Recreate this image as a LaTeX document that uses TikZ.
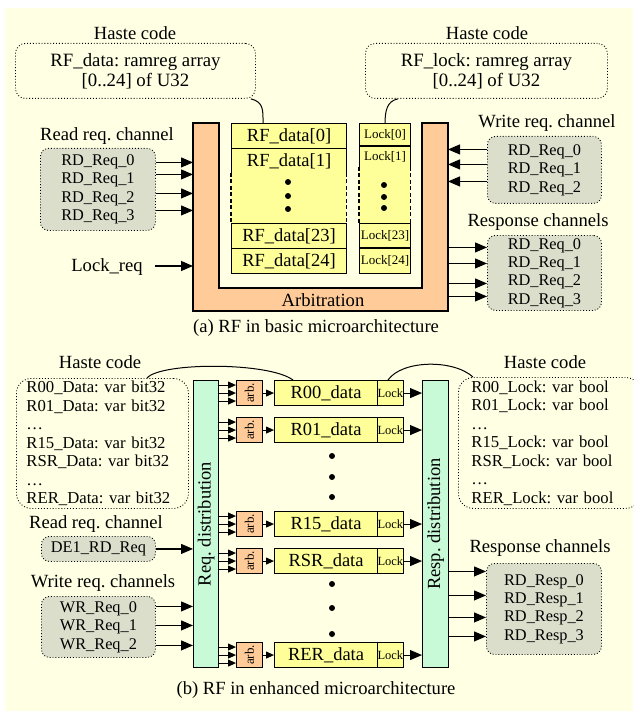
\documentclass[tikz,border=0pt]{standalone}
\usepackage{fontspec}
\usepackage{graphicx}
\setmainfont{Liberation Serif}
\frenchspacing
\usetikzlibrary{arrows.meta,calc}
\definecolor{bgc}{RGB}{255,255,228}
\definecolor{orc}{RGB}{255,204,153}
\definecolor{yel}{RGB}{255,255,153}
\definecolor{greyc}{RGB}{220,222,204}
\definecolor{grn}{RGB}{200,250,215}
\tikzset{
  lab/.style={font=\fontsize{18.6}{20}\selectfont, inner sep=0pt},
  haste/.style={draw, dotted, line width=0.9pt, rounded corners=10pt, inner sep=0pt, anchor=north west},
  gbox/.style={draw, dotted, line width=0.9pt, fill=greyc, rounded corners=8pt, inner sep=0pt,
    anchor=north west, align=center, font=\fontsize{16.3}{18.4}\selectfont},
  ybox/.style={draw, line width=1.1pt, fill=yel, inner sep=0pt, anchor=north west,
    font=\fontsize{18.5}{20}\selectfont},
  lbox/.style={draw, line width=1.1pt, fill=yel, inner sep=0pt, anchor=north west,
    font=\fontsize{13}{14}\selectfont},
  abox/.style={draw, line width=1.1pt, fill=orc, inner sep=0pt, anchor=north west,
    font=\fontsize{13}{14}\selectfont},
  dbox/.style={draw, line width=1.1pt, fill=grn, inner sep=0pt, anchor=north west,
    font=\fontsize{18.5}{20}\selectfont},
  arr/.style={line width=1.1pt, -{Triangle[length=12pt,width=10pt]}},
  sarr/.style={line width=1pt, -{Triangle[length=8pt,width=7pt]}},
  curv/.style={line width=1pt},
  dot/.style={fill=black},
}
\begin{document}
\begin{tikzpicture}[x=1pt,y=-1pt]
\useasboundingbox (0,0) rectangle (633,711);
\fill[bgc] (5,8) rectangle (633,711);

% ================= (a) =================
\node[lab] (hc1) at (135,33) {Haste code};
\node[haste, minimum width=240pt, minimum height=55pt, align=center,
  font=\fontsize{18.8}{20}\selectfont] (hd) at (15,43) {RF\_data: ramreg array\\{}[0..24] of U32};
\node[lab] (hc2) at (487,33) {Haste code};
\node[haste, minimum width=242pt, minimum height=55pt, align=center,
  font=\fontsize{18.8}{20}\selectfont] (hl) at (365,43) {RF\_lock: ramreg array\\{}[0..24] of U32};

% arbitration U
\draw[line width=1.1pt, fill=orc] (193,123) -- (219,123) -- (219,288) -- (422,288) -- (422,123)
  -- (448,123) -- (448,311) -- (193,311) -- cycle;
\coordinate (uLo) at (193,123);
\coordinate (uRo) at (448,123);
\node[lab] (arbt) at (323,300) {Arbitration};

% RF data column
\node[ybox, minimum width=115pt, minimum height=25pt] (rf0) at (231,123) {RF\_data[0]};
\node[ybox, minimum width=115pt, minimum height=25pt] (rf1) at (231,148) {RF\_data[1]};
\node[fill=yel, inner sep=0pt, anchor=north west, minimum width=115pt, minimum height=50pt] (rfm) at (231,173) {};
\draw[line width=1.1pt, dash pattern=on 4pt off 2.5pt] (rfm.north west) -- (rfm.south west) (rfm.north east) -- (rfm.south east);
\node[ybox, minimum width=115pt, minimum height=25pt] (rf23) at (231,223) {RF\_data[23]};
\node[ybox, minimum width=115pt, minimum height=25pt] (rf24) at (231,248) {RF\_data[24]};
\fill[dot] (288,182) circle (3pt) (288,196) circle (3pt) (288,209) circle (3pt);

% Lock column
\node[lbox, minimum width=51pt, minimum height=22pt] (lk0) at (359,123) {Lock[0]};
\node[lbox, minimum width=51pt, minimum height=21pt] (lk1) at (359,146) {Lock[1]};
\node[fill=yel, inner sep=0pt, anchor=north west, minimum width=51pt, minimum height=56pt] (lkm) at (359,167) {};
\draw[line width=1.1pt, dash pattern=on 4pt off 2.5pt] (lkm.north west) -- (lkm.south west) (lkm.north east) -- (lkm.south east);
\node[lbox, minimum width=51pt, minimum height=24pt] (lk23) at (359,223) {Lock[23]};
\node[lbox, minimum width=51pt, minimum height=25pt] (lk24) at (359,248) {Lock[24]};
\fill[dot] (384,185) circle (3pt) (384,197) circle (3pt) (384,208) circle (3pt);

% haste connectors
\draw[curv] ([xshift=-5pt]hd.south east) .. controls ($(hd.south east)+(8,3)$) and ($(rf0.north west)+(32,-12)$) .. ($(rf0.north west)+(32,0)$);
\draw[curv] ([xshift=33pt]hl.south west) .. controls ($(hl.south west)+(22,2)$) and ($(lk0.north)+(0,-12)$) .. (lk0.north);

% read requests
\node[lab] (rdl) at (107,136) {Read req. channel};
\node[gbox, minimum width=115pt, minimum height=82pt] (rd) at (40,148) {RD\_Req\_0\\RD\_Req\_1\\RD\_Req\_2\\RD\_Req\_3};
\foreach \s in {27,15,-4,-21} {
  \draw[arr] ([yshift=\s pt]rd.east) -- ([yshift=\s pt]rd.east -| uLo);
}
\node[lab] (lreq) at (107,267) {Lock\_req};
\draw[arr] ([xshift=12pt,yshift=1pt]lreq.east) -- ([yshift=1pt]lreq.east -| uLo);

% write requests
\node[lab] (wrl) at (547,123) {Write req. channel};
\node[gbox, minimum width=114pt, minimum height=67pt] (wr) at (487,136) {RD\_Req\_0\\RD\_Req\_1\\RD\_Req\_2};
\foreach \s in {20.5,5.5,-11.5} {
  \draw[arr] ([yshift=\s pt]wr.west) -- ([yshift=\s pt]wr.west -| uRo);
}

% responses
\node[lab] (rsl) at (538,222) {Response channels};
\node[gbox, minimum width=114pt, minimum height=75pt] (rs) at (487,235) {RD\_Req\_0\\RD\_Req\_1\\RD\_Req\_2\\RD\_Req\_3};
\foreach \s in {25.5,9.5,-10.5,-23.5} {
  \draw[arr] ([yshift=\s pt]rs.west -| uRo) -- ([yshift=\s pt]rs.west);
}

\node[lab] (capa) at (316,328) {(a) RF in basic microarchitecture};

% ================= (b) =================
\node[lab] (hc3) at (100,362) {Haste code};
\node[haste, rounded corners=15pt, minimum height=130pt, text width=152pt, inner xsep=10pt, align=left,
  font=\fontsize{16.7}{18.5}\selectfont] (hd2) at (16,378)
  {R00\_Data: var bit32\\R01\_Data: var bit32\\…\\R15\_Data: var bit32\\RSR\_Data: var bit32\\…\\RER\_Data: var bit32};
\node[lab] (hc4) at (545,362) {Haste code};
\node[haste, rounded corners=15pt, minimum height=131pt, text width=156pt, inner xsep=13pt, align=left,
  font=\fontsize{16.7}{18.5}\selectfont] (hl2) at (458,377)
  {R00\_Lock: var bool\\R01\_Lock: var bool\\…\\R15\_Lock: var bool\\RSR\_Lock: var bool\\…\\RER\_Lock: var bool};

\node[dbox, minimum width=25pt, minimum height=287pt] (reqd) at (193,380) {\rotatebox{90}{Req. distribution}};
\node[dbox, minimum width=26pt, minimum height=287pt] (respd) at (422,380) {\rotatebox{90}{Resp. distribution}};

\foreach \n/\t/\y in {a/R00/380, b/R01/417, c/R15/511, d/RSR/548, e/RER/642} {
  \node[abox, minimum width=26pt, minimum height=25pt] (arb\n) at (236,\y) {\rotatebox{90}{arb.}};
  \node[ybox, minimum width=103pt, minimum height=25pt] (dat\n) at (274,\y) {\t\_data};
  \node[lbox, minimum width=25pt, minimum height=25pt, font=\fontsize{12.5}{13}\selectfont] (lck\n) at (377,\y) {Lock};
  \foreach \s in {8,0,-8} {
    \draw[sarr] ([yshift=\s pt]arb\n.west -| reqd.east) -- ([yshift=\s pt]arb\n.west);
  }
  \draw[sarr] (arb\n.east) -- (dat\n.west);
  \draw[arr] (lck\n.east) -- (lck\n.east -| respd.west);
}
\fill[dot] (332,456) circle (3pt) (332,477) circle (3pt) (332,497) circle (3pt);
\fill[dot] (332,584) circle (3pt) (332,608) circle (3pt) (332,634) circle (3pt);

\draw[curv] ($(hd2.north west)+(131,0)$) .. controls ($(hd2.north west)+(145,-16)$) and ($(data.north west)+(-5,-18)$) .. ($(data.north west)+(19,0)$);
\draw[curv] ($(lcka.north west)+(11,0)$) .. controls ($(lcka.north west)+(25,-20)$) and ($(hl2.north west)+(-5,-18)$) .. ($(hl2.north west)+(15,0)$);

\node[lab] (rdl2) at (96,524) {Read req. channel};
\node[gbox, minimum width=114pt, minimum height=25pt] (de1) at (41,536) {DE1\_RD\_Req};
\draw[arr] (de1.east) -- (de1.east -| reqd.west);

\node[lab] (wrl2) at (103,583) {Write req. channels};
\node[gbox, minimum width=114pt, minimum height=61pt] (wrb) at (41,596) {WR\_Req\_0\\WR\_Req\_1\\WR\_Req\_2};
\foreach \s in {20.5,1.5,-18.5} {
  \draw[arr] ([yshift=\s pt]wrb.east) -- ([yshift=\s pt]wrb.east -| reqd.west);
}

\node[lab] (rsl2) at (540,548) {Response channels};
\node[gbox, minimum width=115pt, minimum height=91pt] (rsb) at (486,563) {RD\_Resp\_0\\RD\_Resp\_1\\RD\_Resp\_2\\RD\_Resp\_3};
\foreach \s in {37.5,13.5,-8.5,-27.5} {
  \draw[arr] ([yshift=\s pt]rsb.west -| respd.east) -- ([yshift=\s pt]rsb.west);
}

\node[lab] (capb) at (316,690) {(b) RF in enhanced microarchitecture};
\end{tikzpicture}
\end{document}
